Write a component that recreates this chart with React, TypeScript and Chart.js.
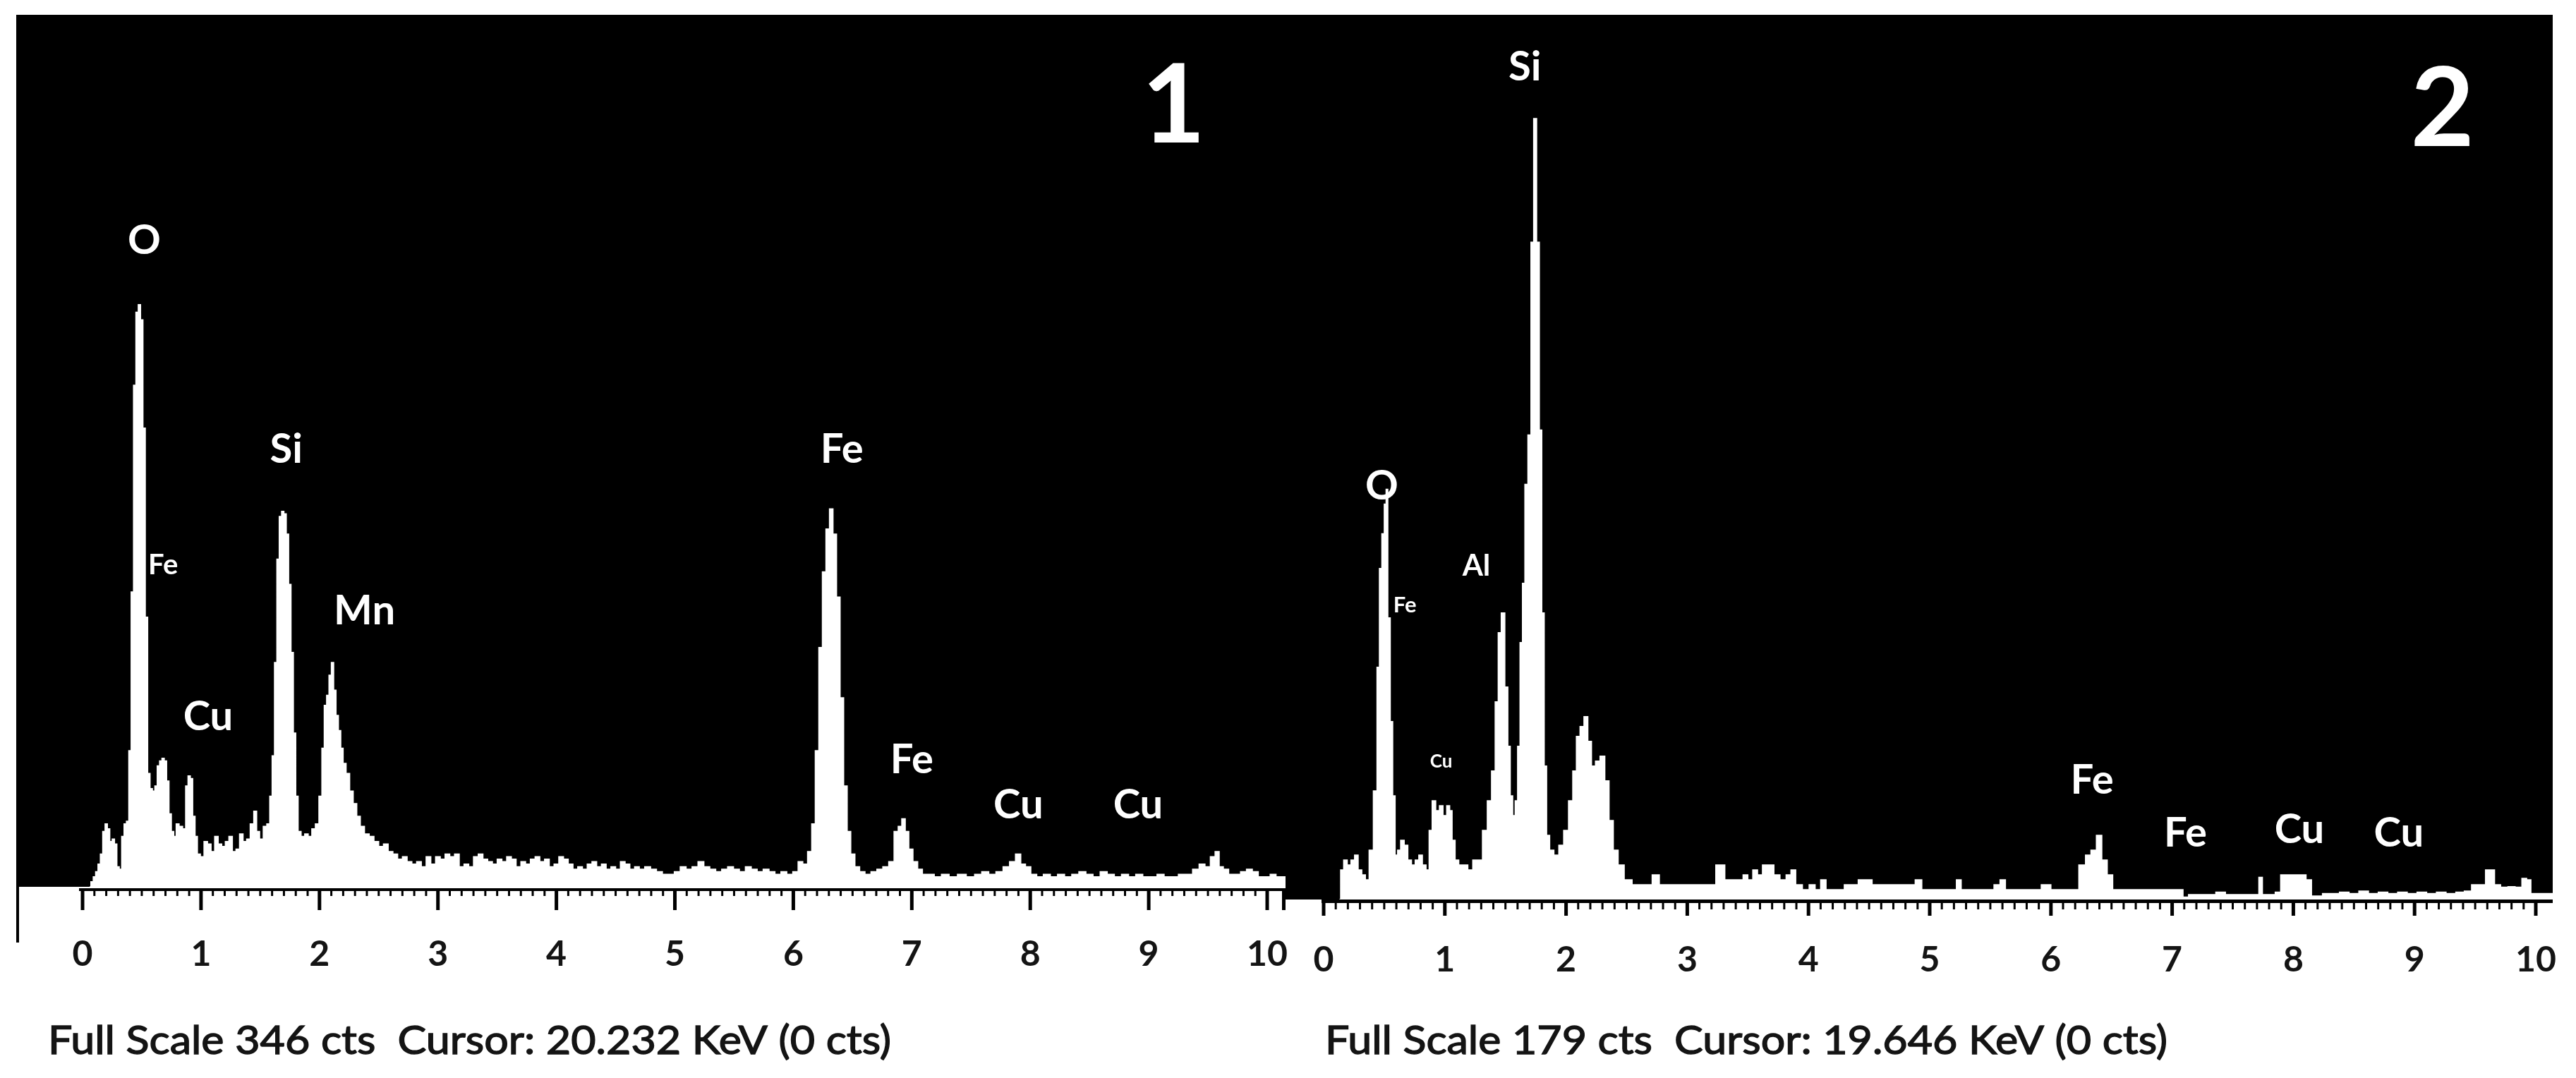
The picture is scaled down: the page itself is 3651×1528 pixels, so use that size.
import React, { useEffect, useRef } from 'react';
import { Chart, registerables } from 'chart.js';

Chart.register(...registerables);

// ---------------- DATA ----------------
// Panel 1 spectrum (energy keV, counts)
const P1_ENERGY = [
  0.06, 0.08, 0.10, 0.12, 0.14, 0.16, 0.18, 0.20, 0.22, 0.24, 0.26, 0.28, 0.30, 0.32, 0.34, 0.36, 0.38, 0.40,
  0.42, 0.44, 0.46, 0.48, 0.50, 0.52, 0.54, 0.56, 0.58, 0.60, 0.62, 0.64, 0.66, 0.68, 0.70, 0.72, 0.74, 0.76,
  0.78, 0.80, 0.83, 0.86, 0.88, 0.90, 0.92, 0.94, 0.96, 0.98, 1.01, 1.04, 1.07, 1.10, 1.13, 1.16, 1.19, 1.22,
  1.25, 1.28, 1.31, 1.34, 1.37, 1.40, 1.43, 1.46, 1.48, 1.51, 1.54, 1.57, 1.59, 1.61, 1.63, 1.65, 1.67, 1.69,
  1.71, 1.73, 1.75, 1.77, 1.79, 1.81, 1.83, 1.86, 1.89, 1.92, 1.95, 1.98, 2.01, 2.03, 2.05, 2.07, 2.09, 2.11,
  2.13, 2.15, 2.17, 2.19, 2.21, 2.24, 2.27, 2.30, 2.33, 2.36, 2.40, 2.44, 2.48, 2.52, 2.56, 2.60, 2.64, 2.68,
  2.72, 2.76, 2.80, 2.84, 2.88, 2.92, 2.96, 3.00, 3.04, 3.08, 3.12, 3.16, 3.20, 3.24, 3.28, 3.32, 3.36, 3.40,
  3.44, 3.48, 3.52, 3.56, 3.60, 3.64, 3.68, 3.72, 3.76, 3.80, 3.84, 3.88, 3.92, 3.96, 4.00, 4.04, 4.08, 4.12,
  4.16, 4.20, 4.24, 4.28, 4.32, 4.36, 4.40, 4.44, 4.48, 4.52, 4.56, 4.60, 4.64, 4.68, 4.72, 4.77, 4.82, 4.87,
  4.92, 4.97, 5.02, 5.07, 5.12, 5.17, 5.22, 5.27, 5.32, 5.37, 5.42, 5.47, 5.52, 5.57, 5.62, 5.67, 5.72, 5.77,
  5.82, 5.87, 5.92, 5.97, 6.02, 6.06, 6.10, 6.14, 6.17, 6.20, 6.23, 6.26, 6.29, 6.32, 6.35, 6.38, 6.41, 6.44,
  6.47, 6.50, 6.54, 6.58, 6.63, 6.68, 6.73, 6.78, 6.83, 6.87, 6.90, 6.93, 6.96, 6.99, 7.03, 7.07, 7.11, 7.16,
  7.22, 7.28, 7.35, 7.42, 7.50, 7.56, 7.62, 7.68, 7.74, 7.80, 7.85, 7.90, 7.94, 7.98, 8.03, 8.08, 8.14, 8.20,
  8.26, 8.32, 8.38, 8.44, 8.50, 8.56, 8.62, 8.68, 8.74, 8.80, 8.86, 8.92, 8.98, 9.04, 9.10, 9.16, 9.22, 9.28,
  9.34, 9.40, 9.45, 9.50, 9.54, 9.58, 9.61, 9.65, 9.70, 9.75, 9.80, 9.85, 9.90, 9.95, 10.00, 10.05, 10.10, 10.16,
];
const P1_COUNTS = [
  0, 2, 4, 6, 9, 13, 22, 25, 23, 18, 19, 17, 8, 7, 20, 25, 26, 54,
  117, 199, 228, 231, 225, 182, 107, 45, 39, 38, 40, 48, 50, 51, 50, 42, 29, 22,
  20, 25, 24, 23, 40, 44, 43, 28, 20, 13, 12, 18, 17, 14, 20, 17, 16, 18,
  20, 14, 15, 21, 18, 19, 25, 30, 22, 19, 24, 25, 36, 52, 89, 130, 147, 149,
  148, 140, 120, 93, 61, 36, 22, 20, 21, 20, 23, 25, 36, 55, 72, 76, 84, 89,
  78, 68, 62, 55, 49, 45, 38, 33, 28, 24, 21, 20, 18, 16, 17, 14, 13, 11,
  12, 10, 9, 10, 8, 12, 9, 12, 11, 13, 12, 13, 8, 9, 8, 12, 13, 11,
  10, 9, 11, 10, 12, 11, 8, 10, 9, 11, 12, 10, 11, 8, 9, 12, 11, 9,
  7, 8, 7, 9, 10, 8, 9, 7, 8, 7, 10, 9, 7, 8, 7, 8, 7, 6,
  5, 5, 6, 8, 7, 8, 10, 8, 7, 6, 7, 8, 7, 6, 8, 7, 6, 7,
  6, 5, 6, 5, 6, 10, 9, 14, 25, 54, 95, 125, 142, 150, 140, 115, 75, 40,
  22, 13, 8, 6, 5, 6, 7, 8, 10, 22, 24, 27, 22, 15, 10, 7, 5, 5,
  4, 5, 4, 5, 4, 5, 6, 5, 6, 8, 10, 13, 9, 8, 5, 4, 5, 4,
  5, 4, 5, 6, 5, 4, 6, 5, 4, 5, 4, 5, 4, 4, 5, 4, 4, 5,
  5, 7, 9, 8, 12, 14, 8, 7, 5, 5, 6, 7, 6, 4, 4, 5, 4, 4,
];

// Panel 2 spectrum (energy keV, counts)
const P2_ENERGY = [
  0.13, 0.15, 0.18, 0.21, 0.24, 0.27, 0.30, 0.33, 0.36, 0.39, 0.43, 0.45, 0.47, 0.49, 0.51, 0.52, 0.54, 0.56,
  0.58, 0.60, 0.62, 0.65, 0.68, 0.71, 0.74, 0.77, 0.80, 0.83, 0.86, 0.88, 0.91, 0.94, 0.97, 1.00, 1.03, 1.05,
  1.07, 1.10, 1.13, 1.17, 1.21, 1.25, 1.29, 1.33, 1.37, 1.40, 1.43, 1.45, 1.48, 1.51, 1.53, 1.55, 1.57, 1.59,
  1.61, 1.63, 1.65, 1.67, 1.70, 1.72, 1.745, 1.77, 1.79, 1.81, 1.83, 1.85, 1.88, 1.92, 1.96, 2.00, 2.04, 2.07,
  2.10, 2.13, 2.165, 2.195, 2.225, 2.26, 2.30, 2.34, 2.37, 2.41, 2.45, 2.51, 2.58, 2.63, 2.68, 2.74, 2.80, 2.87,
  2.94, 3.00, 3.05, 3.12, 3.18, 3.22, 3.25, 3.29, 3.33, 3.38, 3.44, 3.48, 3.52, 3.56, 3.60, 3.64, 3.69, 3.74,
  3.79, 3.84, 3.87, 3.92, 3.98, 4.03, 4.08, 4.12, 4.17, 4.22, 4.27, 4.32, 4.38, 4.44, 4.50, 4.55, 4.62, 4.70,
  4.78, 4.85, 4.91, 4.96, 5.02, 5.08, 5.14, 5.20, 5.24, 5.28, 5.35, 5.42, 5.50, 5.56, 5.60, 5.65, 5.72, 5.80,
  5.88, 5.96, 6.04, 6.12, 6.20, 6.26, 6.31, 6.35, 6.40, 6.44, 6.49, 6.53, 6.60, 6.68, 6.76, 6.84, 6.92, 7.00,
  7.07, 7.11, 7.16, 7.24, 7.32, 7.40, 7.48, 7.56, 7.64, 7.70, 7.73, 7.76, 7.82, 7.88, 7.91, 7.96, 8.02, 8.08,
  8.13, 8.17, 8.22, 8.26, 8.34, 8.42, 8.50, 8.58, 8.66, 8.74, 8.82, 8.90, 8.98, 9.06, 9.14, 9.22, 9.30, 9.38,
  9.44, 9.50, 9.56, 9.61, 9.64, 9.68, 9.74, 9.80, 9.86, 9.91, 9.94, 9.98, 10.06, 10.14,
];
const P2_COUNTS = [
  0, 6, 8, 7, 8, 9, 6, 5, 4, 10, 22, 47, 67, 74, 80, 83, 57, 36,
  21, 9, 10, 12, 11, 8, 7, 8, 9, 7, 6, 14, 20, 18, 19, 17, 19, 18,
  12, 8, 7, 7, 6, 8, 8, 14, 20, 26, 40, 54, 58, 43, 31, 21, 17, 20,
  31, 52, 64, 84, 94, 133, 158, 133, 95, 58, 27, 13, 10, 9, 11, 14, 20, 26,
  33, 35, 37, 32, 27, 28, 29, 24, 16, 10, 7, 4, 3, 3, 3, 5, 3, 3,
  3, 3, 3, 3, 3, 3, 7, 7, 4, 4, 4, 5, 4, 6, 5, 7, 7, 5,
  4, 5, 6, 3, 2, 3, 2, 4, 2, 2, 2, 3, 3, 4, 4, 3, 3, 3,
  3, 3, 4, 2, 2, 2, 2, 2, 4, 2, 2, 2, 2, 3, 4, 2, 2, 2,
  2, 3, 2, 2, 2, 7, 9, 10, 13, 8, 5, 2, 2, 2, 2, 2, 2, 2,
  2, 0.5, 1, 1, 1, 1.5, 1, 1, 1, 1, 4.5, 1, 1, 1.5, 5, 5, 5, 5,
  4, 0.7, 0.7, 1.2, 1.2, 1.5, 1.2, 1.7, 1.2, 1.5, 1.2, 1.5, 1.2, 1.5, 1.2, 1.5, 1.2, 1.5,
  1.7, 3, 3, 6, 6, 3, 2.5, 2.6, 2.5, 4.3, 4, 1.2, 1.2, 1.2,
];

const X_TICK_LABELS = [0, 1, 2, 3, 4, 5, 6, 7, 8, 9, 10];
const MINOR_STEP_KEV = 0.1;

const P1_FULL_SCALE = 346;
const P2_FULL_SCALE = 179;
const P1_FOOTER = 'Full Scale 346 cts  Cursor: 20.232 KeV (0 cts)';
const P2_FOOTER = 'Full Scale 179 cts  Cursor: 19.646 KeV (0 cts)';

// Peak annotations: text, energy (keV), counts, kind
const P1_LABEL_TEXT = ['O', 'Fe', 'Cu', 'Si', 'Mn', 'Fe', 'Fe', 'Cu', 'Cu', '1'];
const P1_LABEL_KEV = [0.52, 0.68, 1.06, 1.72, 2.38, 6.41, 7.0, 7.9, 8.91, 9.21];
const P1_LABEL_CTS = [257, 128, 68, 174, 110, 174, 51, 33, 33, 311];
const P1_LABEL_KIND = ['main', 'small', 'main', 'main', 'main', 'main', 'main', 'main', 'main', 'panel'];

const P2_LABEL_TEXT = ['Si', 'O', 'Fe', 'Al', 'Cu', 'Fe', 'Fe', 'Cu', 'Cu', '2'];
const P2_LABEL_KEV = [1.66, 0.48, 0.67, 1.26, 0.97, 6.34, 7.11, 8.05, 8.87, 9.23];
const P2_LABEL_CTS = [168.7, 83.9, 59.7, 67.7, 28, 24.4, 13.7, 14.4, 13.7, 160.4];
const P2_LABEL_KIND = ['main', 'main', 'smallFe', 'al', 'tiny', 'main', 'main', 'main', 'main', 'panel'];

// ---------------- STYLE / LAYOUT ----------------
const FONT_FAMILY = '"Lato", "Noto Sans", "DejaVu Sans", sans-serif';
const LABEL_FONT_PX: Record<string, number> = { main: 58, small: 40, smallFe: 31, al: 42, tiny: 26, panel: 156 };
const CAP_RATIO = 0.72;

type PanelCfg = {
  canvasLeft: number;
  canvasWidth: number;
  area: { left: number; right: number; top: number; bottom: number };
  x0px: number;
  pxPerKeV: number;
  axisY: number;
  axisW: number;
  axisStartOffset: number;
  majorEnd: number;
  minorEnd: number;
  majorW: number;
  minorW: number;
  labelBaseline: number;
  leftStub: boolean;
  endTick: boolean;
  footerX: number;
  footerBaseline: number;
  footerWidth: number;
};

const PAGE_W = 3651;
const PAGE_H = 1528;

const PANEL1: PanelCfg = {
  canvasLeft: 0,
  canvasWidth: 1850,
  area: { left: 23, right: 1822, top: 21, bottom: 1257 },
  x0px: 117,
  pxPerKeV: 167.9,
  axisY: 1261,
  axisW: 4,
  axisStartOffset: 5,
  majorEnd: 1290,
  minorEnd: 1270,
  majorW: 5,
  minorW: 3,
  labelBaseline: 1369,
  leftStub: true,
  endTick: true,
  footerX: 68,
  footerBaseline: 1494,
  footerWidth: 1195,
};

const PANEL2: PanelCfg = {
  canvasLeft: 1800,
  canvasWidth: 1851,
  area: { left: 1822, right: 3618, top: 21, bottom: 1275 },
  x0px: 1876,
  pxPerKeV: 171.8,
  axisY: 1277.5,
  axisW: 5,
  axisStartOffset: 3,
  majorEnd: 1298,
  minorEnd: 1289,
  majorW: 5,
  minorW: 3,
  labelBaseline: 1377,
  leftStub: false,
  endTick: false,
  footerX: 1878,
  footerBaseline: 1494,
  footerWidth: 1194,
};

function makePlugin(p: PanelCfg, labels: { text: string[]; kev: number[]; cts: number[]; kind: string[] }, footer: string) {
  return {
    id: 'edsPanel',
    beforeDraw(chart: any) {
      const { ctx, chartArea: a } = chart;
      ctx.save();
      ctx.fillStyle = '#000';
      ctx.fillRect(a.left, a.top, a.right - a.left, a.bottom - a.top);
      ctx.restore();
    },
    afterDatasetsDraw(chart: any) {
      const ctx = chart.ctx;
      const xs = chart.scales.x;
      const ys = chart.scales.y;
      ctx.save();
      ctx.fillStyle = '#fff';
      ctx.textAlign = 'center';
      ctx.textBaseline = 'alphabetic';
      for (let i = 0; i < labels.text.length; i++) {
        const size = LABEL_FONT_PX[labels.kind[i]];
        ctx.font = `bold ${size}px ${FONT_FAMILY}`;
        const px = xs.getPixelForValue(labels.kev[i]);
        const py = ys.getPixelForValue(labels.cts[i]);
        ctx.fillText(labels.text[i], px, py + (size * CAP_RATIO) / 2);
      }
      ctx.restore();
    },
    afterDraw(chart: any) {
      const ctx = chart.ctx;
      const xs = chart.scales.x;
      const off = p.canvasLeft;
      ctx.save();
      ctx.fillStyle = '#000';
      // axis line
      const xStart = xs.getPixelForValue(0) - p.axisStartOffset;
      const xEnd = xs.right;
      ctx.fillRect(xStart, p.axisY - p.axisW / 2, xEnd - xStart, p.axisW);
      const yTick = p.axisY + p.axisW / 2 - 1;
      // minor & major ticks
      const maxV = X_TICK_LABELS[X_TICK_LABELS.length - 1];
      const nMinor = Math.round(maxV / MINOR_STEP_KEV);
      for (let i = 0; i <= nMinor; i++) {
        const v = i * MINOR_STEP_KEV;
        const major = i % 10 === 0;
        const px = xs.getPixelForValue(v);
        const w = major ? p.majorW : p.minorW;
        const end = major ? p.majorEnd : p.minorEnd;
        ctx.fillRect(px - w / 2, yTick, w, end - yTick);
      }
      if (p.endTick) {
        ctx.fillRect(xEnd - p.majorW, yTick, p.majorW, p.majorEnd - yTick);
      }
      if (p.leftStub) {
        ctx.fillRect(p.area.left - off, p.area.bottom, 4, 1336 - p.area.bottom);
      }
      // tick labels
      ctx.fillStyle = '#141414';
      ctx.font = `bold 50px ${FONT_FAMILY}`;
      ctx.textAlign = 'center';
      ctx.textBaseline = 'alphabetic';
      for (const v of X_TICK_LABELS) {
        ctx.fillText(String(v), xs.getPixelForValue(v), p.labelBaseline);
      }
      // footer text
      ctx.font = `57px ${FONT_FAMILY}`;
      ctx.textAlign = 'left';
      const w = ctx.measureText(footer).width;
      const sx = p.footerWidth / w;
      ctx.translate(p.footerX - off, p.footerBaseline);
      ctx.scale(sx, 1);
      ctx.fillStyle = '#141414';
      ctx.strokeStyle = '#141414';
      ctx.lineWidth = 1.4;
      ctx.fillText(footer, 0, 0);
      ctx.strokeText(footer, 0, 0);
      ctx.restore();
    },
  };
}

function Panel({ cfg, energy, counts, fullScale, labels, footer }: any) {
  const ref = useRef<HTMLCanvasElement | null>(null);
  useEffect(() => {
    const canvas = ref.current;
    if (!canvas) return;
    const points = energy.map((e: number, i: number) => ({ x: e, y: counts[i] }));
    const xMin = (cfg.area.left - cfg.x0px) / cfg.pxPerKeV;
    const xMax = (cfg.area.right - cfg.x0px) / cfg.pxPerKeV;
    const chart = new Chart(canvas, {
      type: 'line',
      data: {
        datasets: [
          {
            data: points,
            borderColor: '#fff',
            backgroundColor: '#fff',
            borderWidth: 1.5,
            pointRadius: 0,
            fill: 'origin',
            stepped: 'middle',
            tension: 0,
          },
        ],
      },
      options: {
        animation: false,
        responsive: false,
        maintainAspectRatio: false,
        devicePixelRatio: 1,
        events: [],
        layout: {
          padding: {
            left: cfg.area.left - cfg.canvasLeft,
            right: cfg.canvasLeft + cfg.canvasWidth - cfg.area.right,
            top: cfg.area.top,
            bottom: PAGE_H - cfg.area.bottom,
          },
        },
        plugins: { legend: { display: false }, tooltip: { enabled: false }, title: { display: false } },
        scales: {
          x: { type: 'linear', min: xMin, max: xMax, display: false },
          y: { type: 'linear', min: 0, max: fullScale, display: false },
        },
      },
      plugins: [makePlugin(cfg, labels, footer)],
    } as any);
    return () => chart.destroy();
  }, []);
  return (
    <canvas
      ref={ref}
      width={cfg.canvasWidth}
      height={PAGE_H}
      style={{ position: 'absolute', left: cfg.canvasLeft, top: 0, width: cfg.canvasWidth, height: PAGE_H }}
    />
  );
}

export default function App() {
  useEffect(() => {
    document.body.style.margin = '0';
    document.body.style.background = '#fff';
  }, []);
  return (
    <div style={{ position: 'absolute', left: 0, top: 0, width: PAGE_W, height: PAGE_H, background: '#fff', overflow: 'hidden' }}>
      <Panel
        cfg={PANEL1}
        energy={P1_ENERGY}
        counts={P1_COUNTS}
        fullScale={P1_FULL_SCALE}
        labels={{ text: P1_LABEL_TEXT, kev: P1_LABEL_KEV, cts: P1_LABEL_CTS, kind: P1_LABEL_KIND }}
        footer={P1_FOOTER}
      />
      <Panel
        cfg={PANEL2}
        energy={P2_ENERGY}
        counts={P2_COUNTS}
        fullScale={P2_FULL_SCALE}
        labels={{ text: P2_LABEL_TEXT, kev: P2_LABEL_KEV, cts: P2_LABEL_CTS, kind: P2_LABEL_KIND }}
        footer={P2_FOOTER}
      />
    </div>
  );
}
